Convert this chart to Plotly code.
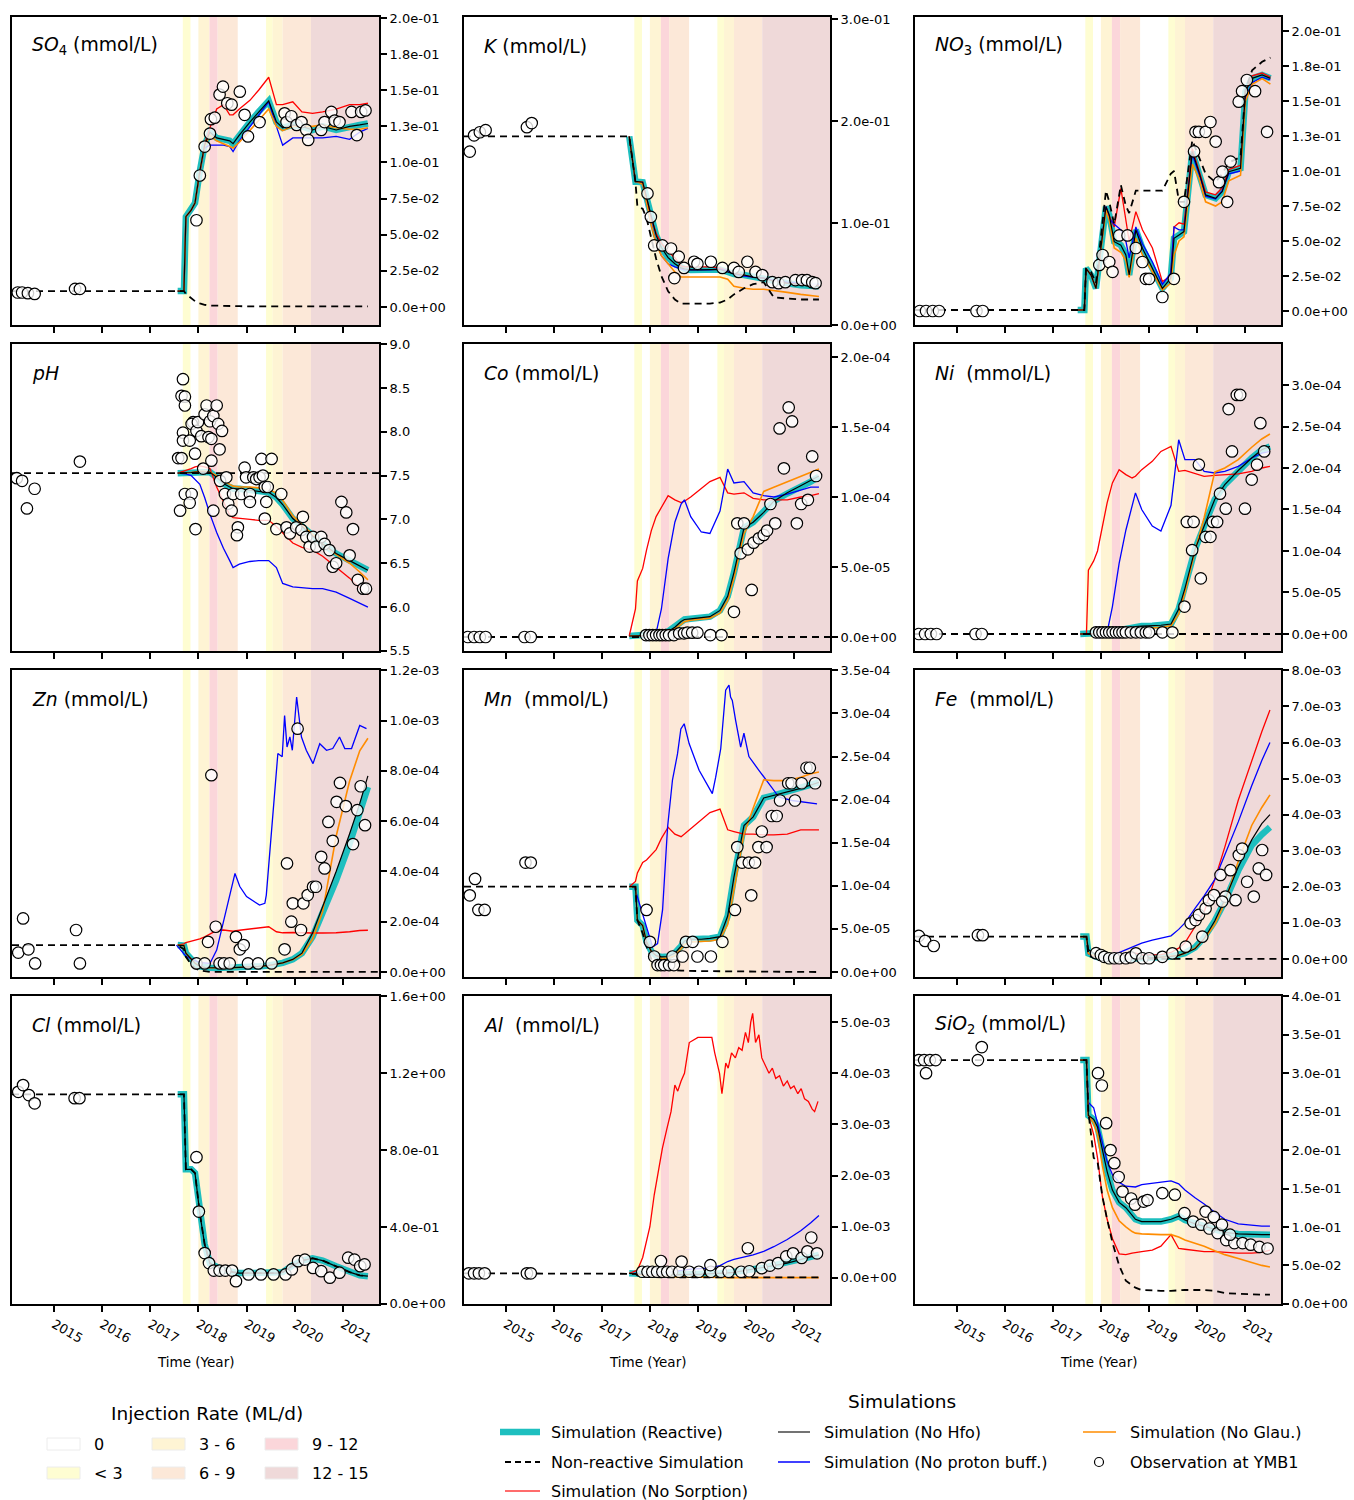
import plotly.graph_objects as go

W, H = 1354, 1500
FONT = "DejaVu Sans"

# ---------------- time axis ----------------
X_LEFT, X_RIGHT = 2014.13, 2021.75
YEAR_TICKS = [2015, 2016, 2017, 2018, 2019, 2020, 2021]
T = [2017.57, 2017.70, 2017.74, 2017.85, 2017.93, 2018.03, 2018.13, 2018.24, 2018.38, 2018.52,
     2018.65, 2018.72, 2018.85, 2019.07, 2019.25, 2019.46, 2019.62, 2019.75, 2019.96, 2020.15,
     2020.37, 2020.58, 2020.86, 2021.14, 2021.35, 2021.52]

# ---------------- injection-rate periods ----------------
BAND_START = [2017.676, 2018.00, 2018.23, 2018.40, 2019.405, 2019.544, 2019.751, 2020.338]
BAND_END = [2017.836, 2018.23, 2018.40, 2018.817, 2019.544, 2019.751, 2020.338, 2021.75]
BAND_CLASS = ["< 3", "3 - 6", "9 - 12", "6 - 9", "< 3", "3 - 6", "6 - 9", "12 - 15"]
RATE_CLASSES = ["0", "< 3", "3 - 6", "6 - 9", "9 - 12", "12 - 15"]
RATE_COLORS = ["#ffffff", "#fefdd2", "#fef4d4", "#fce8d8", "#fbd6da", "#efd9d9"]

# ---------------- SO4 ----------------
SO4_REACTIVE = [0.011, 0.011, 0.0625, 0.067, 0.072, 0.094, 0.112, 0.121, 0.117, 0.116, 0.115, 0.113, 0.119,
                0.128, 0.135, 0.1426, 0.128, 0.124, 0.126, 0.125, 0.1225, 0.125, 0.1225, 0.125, 0.126, 0.127]
SO4_NOHFO = SO4_REACTIVE
SO4_NOGLAU = [0.011, 0.011, 0.0625, 0.067, 0.072, 0.094, 0.111, 0.119, 0.115, 0.113, 0.111, 0.110, 0.114,
              0.122, 0.129, 0.137, 0.125, 0.122, 0.125, 0.125, 0.125, 0.126, 0.124, 0.123, 0.123, 0.124]
SO4_NOPROTON = [0.011, 0.011, 0.0625, 0.067, 0.072, 0.094, 0.110, 0.112, 0.112, 0.112, 0.111, 0.1075, 0.115,
                0.125, 0.133, 0.142, 0.125, 0.112, 0.117, 0.117, 0.117, 0.117, 0.118, 0.116, 0.121, 0.1236]
SO4_NOSORPTION = [0.011, 0.011, 0.0625, 0.067, 0.072, 0.094, 0.113, 0.124, 0.137, 0.140, 0.133, 0.133, 0.137,
                  0.143, 0.150, 0.159, 0.140, 0.140, 0.142, 0.135, 0.134, 0.135, 0.137, 0.140, 0.140, 0.141]
SO4_NONREACTIVE = [0.011, 0.011, 0.009, 0.006, 0.004, 0.0025, 0.0015, 0.001, 0.0008, 0.0006, 0.0005, 0.0005,
                   0.0005, 0.0004, 0.0004, 0.0004, 0.0004, 0.0004, 0.0004, 0.0004, 0.0004, 0.0004, 0.0004,
                   0.0004, 0.0004, 0.0004]
SO4_OBS_T = [2014.25, 2014.34, 2014.46, 2014.60, 2015.44, 2015.54, 2017.96, 2018.03, 2018.13, 2018.24, 2018.26,
             2018.34, 2018.44, 2018.51, 2018.60, 2018.69, 2018.86, 2018.96, 2019.03, 2019.27, 2019.79, 2019.83,
             2019.93, 2020.04, 2020.14, 2020.24, 2020.28, 2020.55, 2020.62, 2020.76, 2020.83, 2020.93, 2021.18,
             2021.29, 2021.38, 2021.47]
SO4_OBS_V = [0.010, 0.010, 0.0095, 0.009, 0.0125, 0.0125, 0.060, 0.091, 0.111, 0.120, 0.130, 0.131, 0.147,
             0.1525, 0.141, 0.140, 0.149, 0.133, 0.118, 0.128, 0.134, 0.128, 0.132, 0.126, 0.128, 0.1225,
             0.1156, 0.1225, 0.128, 0.135, 0.129, 0.128, 0.135, 0.119, 0.135, 0.136]

# ---------------- K ----------------
K_REACTIVE = [0.185, 0.1405, 0.1405, 0.140, 0.125, 0.105, 0.088, 0.076, 0.066, 0.060, 0.056, 0.055, 0.054,
              0.054, 0.054, 0.0545, 0.052, 0.050, 0.049, 0.047, 0.046, 0.043, 0.041, 0.039, 0.038, 0.038]
K_NOHFO = K_REACTIVE
K_NOSORPTION = [0.185, 0.1405, 0.1405, 0.140, 0.125, 0.105, 0.090, 0.080, 0.072, 0.066, 0.058, 0.057, 0.057,
                0.057, 0.057, 0.056, 0.053, 0.051, 0.049, 0.047, 0.046, 0.043, 0.041, 0.040, 0.039, 0.039]
K_NOPROTON = [0.185, 0.1405, 0.1405, 0.138, 0.120, 0.100, 0.080, 0.068, 0.060, 0.057, 0.055, 0.054, 0.054,
              0.054, 0.054, 0.055, 0.053, 0.050, 0.048, 0.047, 0.046, 0.044, 0.042, 0.041, 0.040, 0.040]
K_NOGLAU = [0.185, 0.1405, 0.1405, 0.138, 0.120, 0.098, 0.080, 0.068, 0.060, 0.052, 0.047, 0.047, 0.047,
            0.047, 0.047, 0.047, 0.045, 0.038, 0.036, 0.035, 0.035, 0.034, 0.032, 0.030, 0.029, 0.028]
K_NONREACTIVE = [0.185, 0.14, 0.116, 0.114, 0.105, 0.085, 0.065, 0.048, 0.033, 0.025, 0.021, 0.021, 0.021,
                 0.021, 0.021, 0.022, 0.025, 0.030, 0.036, 0.040, 0.042, 0.027, 0.026, 0.025, 0.025, 0.025]
K_OBS_T = [2014.25, 2014.34, 2014.46, 2014.58, 2015.44, 2015.54, 2017.95, 2018.02, 2018.09, 2018.26, 2018.44,
           2018.51, 2018.60, 2018.71, 2018.92, 2018.99, 2019.27, 2019.51, 2019.75, 2019.85, 2020.03, 2020.20,
           2020.34, 2020.55, 2020.68, 2020.82, 2021.03, 2021.17, 2021.27, 2021.38, 2021.45]
K_OBS_V = [0.170, 0.186, 0.189, 0.191, 0.194, 0.198, 0.129, 0.106, 0.078, 0.078, 0.075, 0.046, 0.067, 0.056,
           0.062, 0.060, 0.062, 0.056, 0.056, 0.052, 0.062, 0.052, 0.049, 0.042, 0.041, 0.042, 0.044, 0.044,
           0.044, 0.042, 0.041]

# ---------------- NO3 ----------------
T_NO3 = [2017.517, 2017.656, 2017.690, 2017.794, 2017.898, 2018.002, 2018.106, 2018.174, 2018.278, 2018.416,
         2018.520, 2018.589, 2018.728, 2018.865, 2019.073, 2019.280, 2019.454, 2019.523, 2019.627, 2019.730,
         2019.903, 2020.041, 2020.180, 2020.388, 2020.525, 2020.664, 2020.907, 2021.010, 2021.149, 2021.357,
         2021.530]
NO3_REACTIVE = [0.0007, 0.0007, 0.0305, 0.0257, 0.0162, 0.0448, 0.0745, 0.0686, 0.0495, 0.047, 0.040, 0.0257,
                0.0579, 0.0448, 0.0305, 0.0162, 0.0233, 0.0519, 0.0543, 0.0567, 0.1138, 0.0995, 0.0829, 0.0805,
                0.0852, 0.0995, 0.1019, 0.1567, 0.1662, 0.1686, 0.1662]
NO3_NOHFO = NO3_REACTIVE
NO3_NOSORPTION = [0.0007, 0.0007, 0.0305, 0.0257, 0.0162, 0.0448, 0.0745, 0.068, 0.060, 0.0876, 0.064, 0.050,
                  0.071, 0.058, 0.045, 0.021, 0.025, 0.060, 0.063, 0.062, 0.116, 0.100, 0.085, 0.083, 0.088,
                  0.101, 0.104, 0.157, 0.168, 0.170, 0.167]
NO3_NOPROTON = [0.0007, 0.0007, 0.0305, 0.0257, 0.0162, 0.0448, 0.0745, 0.066, 0.062, 0.058, 0.050, 0.038,
                0.060, 0.048, 0.035, 0.019, 0.027, 0.060, 0.058, 0.058, 0.112, 0.098, 0.082, 0.080, 0.086,
                0.098, 0.100, 0.152, 0.163, 0.167, 0.165]
NO3_NOGLAU = [0.0007, 0.0007, 0.0305, 0.0257, 0.0162, 0.0440, 0.072, 0.065, 0.045, 0.042, 0.036, 0.024, 0.052,
              0.040, 0.028, 0.015, 0.020, 0.040, 0.050, 0.053, 0.105, 0.095, 0.078, 0.075, 0.078, 0.093, 0.097,
              0.150, 0.162, 0.166, 0.162]
NO3_NONREACTIVE = [0.0007, 0.0007, 0.030, 0.028, 0.020, 0.055, 0.086, 0.078, 0.062, 0.090, 0.075, 0.070, 0.086,
                   0.086, 0.086, 0.086, 0.098, 0.100, 0.078, 0.078, 0.122, 0.110, 0.098, 0.092, 0.098, 0.106,
                   0.110, 0.158, 0.172, 0.178, 0.181]
NO3_OBS_T = [2014.23, 2014.36, 2014.50, 2014.63, 2015.41, 2015.54, 2017.967, 2018.035, 2018.174, 2018.243,
             2018.382, 2018.555, 2018.728, 2018.865, 2018.935, 2019.004, 2019.28, 2019.52, 2019.73, 2019.94,
             2019.97, 2020.04, 2020.18, 2020.28, 2020.39, 2020.46, 2020.53, 2020.63, 2020.70, 2020.87, 2020.94,
             2021.04, 2021.21, 2021.46]
NO3_OBS_V = [0.0, 0.0, 0.0, 0.0, 0.0, 0.0, 0.0329, 0.040, 0.035, 0.028, 0.054, 0.054, 0.045, 0.035, 0.023,
             0.023, 0.010, 0.023, 0.078, 0.114, 0.128, 0.128, 0.128, 0.135, 0.121, 0.092, 0.0995, 0.078, 0.1067,
             0.1495, 0.157, 0.165, 0.157, 0.128]

# ---------------- pH ----------------
PH_REACTIVE = [7.527, 7.527, 7.53, 7.535, 7.54, 7.54, 7.54, 7.54, 7.48, 7.41, 7.37, 7.35, 7.35, 7.33, 7.32,
               7.31, 7.25, 7.17, 7.01, 6.92, 6.81, 6.72, 6.61, 6.53, 6.47, 6.42]
PH_NOHFO = PH_REACTIVE
PH_NOGLAU = [7.527, 7.527, 7.53, 7.535, 7.54, 7.55, 7.55, 7.54, 7.50, 7.44, 7.40, 7.38, 7.37, 7.37, 7.36,
             7.34, 7.30, 7.22, 7.04, 6.94, 6.82, 6.72, 6.60, 6.50, 6.40, 6.31]
PH_NOSORPTION = [7.527, 7.55, 7.56, 7.58, 7.60, 7.61, 7.60, 7.58, 7.37, 7.20, 7.05, 7.02, 7.01, 7.00, 6.99,
                 6.99, 6.92, 6.85, 6.73, 6.68, 6.65, 6.58, 6.46, 6.33, 6.22, 6.14]
PH_NOPROTON = [7.527, 7.52, 7.52, 7.50, 7.46, 7.40, 7.25, 7.06, 6.85, 6.67, 6.53, 6.45, 6.49, 6.52, 6.53,
               6.53, 6.45, 6.27, 6.23, 6.22, 6.21, 6.21, 6.17, 6.10, 6.04, 6.00]
PH_NONREACTIVE = [7.527] * 26
PH_OBS_T = [2014.23, 2014.34, 2014.44, 2014.60, 2015.54,
            2017.68, 2017.65, 2017.72, 2017.72, 2017.58, 2017.65, 2017.89, 2017.68, 2017.68, 2017.82, 2017.86,
            2017.96, 2017.99, 2018.06, 2018.13, 2018.17, 2018.21, 2018.24, 2018.27, 2018.31, 2018.38, 2018.41,
            2018.44, 2018.49, 2018.27, 2018.31, 2017.62, 2017.93, 2017.72, 2017.86, 2017.82, 2017.94, 2018.10,
            2018.45, 2018.55, 2018.62, 2018.69, 2018.58, 2018.72, 2018.82, 2018.80, 2018.89, 2018.96, 2018.99,
            2019.07, 2019.14, 2019.20, 2019.27, 2019.31, 2019.34, 2019.38, 2019.44, 2019.41, 2019.07, 2019.52,
            2019.38, 2019.62, 2019.72, 2019.83, 2019.90, 2020.03, 2020.17, 2020.14, 2020.24, 2020.31, 2020.38,
            2020.45, 2020.55, 2020.62, 2020.72, 2020.79, 2020.86, 2020.97, 2021.07, 2021.21, 2021.14, 2021.31,
            2021.42, 2021.48]
PH_OBS_V = [7.47, 7.44, 7.125, 7.35, 7.66,
            8.60, 8.41, 8.40, 8.30, 7.70, 7.70, 8.11, 7.99, 7.90, 7.90, 8.09, 8.01, 8.11, 7.95, 8.20, 8.30,
            7.94, 8.12, 7.92, 8.18, 8.30, 8.09, 7.80, 8.01, 7.67, 7.10, 7.10, 7.75, 7.29, 7.29, 7.19, 6.89,
            7.58, 7.44, 7.29, 7.18, 7.10, 7.48, 7.29, 6.91, 6.82, 7.29, 7.59, 7.48, 7.29, 7.48, 7.46, 7.48,
            7.69, 7.50, 7.37, 7.37, 7.20, 7.20, 7.69, 7.01, 6.89, 7.29, 6.91, 6.84, 6.91, 7.03, 6.88, 6.80,
            6.69, 6.80, 6.69, 6.80, 6.72, 6.65, 6.46, 6.50, 7.20, 7.08, 6.89, 6.59, 6.31, 6.21, 6.21]

# ---------------- Co ----------------
CO_REACTIVE = [7e-7, 1e-6, 1e-6, 1e-6, 1e-6, 1e-6, 1.5e-6, 2.5e-6, 4e-6, 7e-6, 1.1e-5, 1.25e-5, 1.3e-5,
               1.4e-5, 1.45e-5, 1.9e-5, 2.9e-5, 4.6e-5, 7.8e-5, 8.2e-5, 8.9e-5, 9.7e-5, 1.025e-4, 1.07e-4,
               1.11e-4, 1.145e-4]
CO_NOHFO = [7e-7, 1e-6, 1e-6, 1e-6, 1e-6, 1e-6, 1.5e-6, 2.5e-6, 4e-6, 7e-6, 1.1e-5, 1.25e-5, 1.3e-5,
            1.4e-5, 1.45e-5, 1.9e-5, 2.9e-5, 4.6e-5, 7.8e-5, 8.2e-5, 8.9e-5, 9.7e-5, 1.03e-4, 1.08e-4,
            1.12e-4, 1.15e-4]
CO_NOGLAU = [7e-7, 1e-6, 1e-6, 1e-6, 1e-6, 1e-6, 1.5e-6, 2.5e-6, 4e-6, 6e-6, 9e-6, 1.1e-5, 1.2e-5, 1.3e-5,
             1.35e-5, 1.7e-5, 2.6e-5, 4.2e-5, 7.4e-5, 8.6e-5, 1.04e-4, 1.07e-4, 1.11e-4, 1.145e-4, 1.18e-4,
             1.2e-4]
CO_NOSORPTION = [7e-7, 2e-5, 4.0e-5, 4.9e-5, 6.2e-5, 7.6e-5, 8.6e-5, 9.3e-5, 1.01e-4, 9.8e-5, 9.6e-5, 9.7e-5,
                 1.0e-4, 1.06e-4, 1.11e-4, 1.14e-4, 1.03e-4, 1.02e-4, 1.03e-4, 9.9e-5, 9.8e-5, 9.8e-5, 9.8e-5,
                 1.0e-4, 1.01e-4, 1.025e-4]
CO_NOPROTON = [7e-7, 1e-6, 1e-6, 1e-6, 1e-6, 1e-6, 3e-6, 2.0e-5, 5.6e-5, 8.2e-5, 9.5e-5, 9.8e-5, 8.6e-5,
               7.5e-5, 7.4e-5, 9.0e-5, 1.2e-4, 1.1e-4, 1.11e-4, 1.03e-4, 1.01e-4, 1.0e-4, 1.02e-4, 1.05e-4,
               1.07e-4, 1.07e-4]
CO_NONREACTIVE = [0.0] * 26
CO_OBS_T = [2014.21, 2014.34, 2014.46, 2014.58, 2015.39, 2015.52,
            2017.92, 2017.99, 2018.06, 2018.13, 2018.20, 2018.26, 2018.33, 2018.40, 2018.50, 2018.61, 2018.71,
            2018.78, 2018.88, 2018.99, 2019.26, 2019.49,
            2019.75, 2020.12, 2019.89, 2020.04, 2020.16, 2020.27, 2020.37, 2020.44, 2019.82, 2019.96, 2020.61,
            2020.51, 2021.06, 2021.15, 2021.29, 2020.79, 2021.38, 2021.46, 2020.70, 2020.89, 2020.96]
CO_OBS_V = [0.0, 0.0, 0.0, 0.0, 0.0, 0.0,
            1.4e-6, 1.4e-6, 1.4e-6, 1.4e-6, 1.4e-6, 1.4e-6, 1.4e-6, 1.4e-6, 1.4e-6, 2.6e-6, 2.6e-6, 3.1e-6,
            3.1e-6, 3.1e-6, 1.4e-6, 1.4e-6,
            1.8e-5, 3.36e-5, 5.98e-5, 6.26e-5, 6.74e-5, 7.05e-5, 7.29e-5, 7.6e-5, 8.12e-5, 8.12e-5, 8.12e-5,
            9.5e-5, 8.12e-5, 9.5e-5, 9.8e-5, 1.205e-4, 1.29e-4, 1.15e-4, 1.49e-4, 1.64e-4, 1.54e-4]

# ---------------- Ni ----------------
NI_REACTIVE = [0.0, 0.0, 0.0, 5e-7, 1e-6, 1.5e-6, 2e-6, 3e-6, 4e-6, 5.5e-6, 8e-6, 9e-6, 9.5e-6, 1.0e-5,
               1.05e-5, 1.2e-5, 3.0e-5, 5.5e-5, 1.02e-4, 1.3e-4, 1.62e-4, 1.80e-4, 1.97e-4, 2.12e-4, 2.22e-4,
               2.26e-4]
NI_NOHFO = NI_REACTIVE
NI_NOGLAU = [0.0, 0.0, 0.0, 5e-7, 1e-6, 1.5e-6, 2e-6, 3e-6, 4e-6, 5e-6, 6e-6, 7e-6, 7e-6, 7.5e-6, 8e-6,
             1.0e-5, 2.4e-5, 5.0e-5, 1.0e-4, 1.4e-4, 1.95e-4, 2.0e-4, 2.1e-4, 2.25e-4, 2.35e-4, 2.41e-4]
NI_NOSORPTION = [0.0, 0.0, 7.7e-5, 8.8e-5, 1.0e-4, 1.28e-4, 1.58e-4, 1.82e-4, 1.98e-4, 1.92e-4, 1.88e-4,
                 1.9e-4, 1.98e-4, 2.08e-4, 2.2e-4, 2.26e-4, 1.96e-4, 1.97e-4, 1.93e-4, 1.90e-4, 1.91e-4,
                 1.92e-4, 1.93e-4, 1.96e-4, 2.0e-4, 2.02e-4]
NI_NOPROTON = [0.0, 0.0, 0.0, 5e-7, 1e-6, 1.5e-6, 2e-6, 3.3e-5, 8.5e-5, 1.25e-4, 1.55e-4, 1.7e-4, 1.5e-4,
               1.3e-4, 1.24e-4, 1.55e-4, 2.34e-4, 2.1e-4, 2.1e-4, 1.96e-4, 1.94e-4, 1.96e-4, 2.02e-4, 2.12e-4,
               2.18e-4, 2.2e-4]
NI_NONREACTIVE = [0.0] * 26
NI_OBS_T = [2014.21, 2014.34, 2014.46, 2014.58, 2015.39, 2015.52,
            2017.898, 2017.967, 2018.035, 2018.106, 2018.174, 2018.243, 2018.313, 2018.382, 2018.451, 2018.520,
            2018.624, 2018.728, 2018.831, 2018.935, 2019.004, 2019.28, 2019.488,
            2019.74, 2020.08, 2019.90, 2020.18, 2020.28, 2019.79, 2019.93, 2020.33, 2020.42, 2020.48, 2020.60,
            2020.73, 2020.66, 2020.83, 2020.90, 2021.00, 2021.14, 2021.25, 2021.32, 2021.40, 2020.04]
NI_OBS_V = [0.0, 0.0, 0.0, 0.0, 0.0, 0.0,
            2e-6, 2e-6, 2e-6, 2e-6, 2e-6, 2e-6, 2e-6, 2e-6, 2e-6, 2e-6, 2e-6, 2e-6, 2e-6, 2e-6, 2e-6, 2e-6, 2e-6,
            3.3e-5, 6.7e-5, 1.01e-4, 1.17e-4, 1.17e-4, 1.35e-4, 1.35e-4, 1.35e-4, 1.35e-4, 1.69e-4, 1.51e-4,
            2.2e-4, 2.71e-4, 2.88e-4, 2.88e-4, 1.51e-4, 1.86e-4, 2.04e-4, 2.54e-4, 2.2e-4, 2.04e-4]

# ---------------- Zn ----------------
ZN_REACTIVE = [1.07e-4, 1.05e-4, 7.5e-5, 5.0e-5, 3.5e-5, 2.2e-5, 1.8e-5, 1.7e-5, 1.6e-5, 1.6e-5, 1.6e-5,
               1.7e-5, 1.8e-5, 2.0e-5, 2.2e-5, 2.6e-5, 3.0e-5, 3.6e-5, 5.0e-5, 7.5e-5, 1.4e-4, 2.3e-4, 3.65e-4,
               5.1e-4, 6.3e-4, 7.36e-4]
ZN_NOHFO = [1.07e-4, 1.05e-4, 7.5e-5, 5.0e-5, 3.5e-5, 2.2e-5, 1.8e-5, 1.7e-5, 1.6e-5, 1.6e-5, 1.6e-5,
            1.7e-5, 1.8e-5, 2.0e-5, 2.2e-5, 2.6e-5, 3.0e-5, 3.6e-5, 5.0e-5, 7.5e-5, 1.55e-4, 2.6e-4, 4.0e-4,
            5.5e-4, 6.7e-4, 7.8e-4]
ZN_NOGLAU = [1.07e-4, 1.05e-4, 7.5e-5, 5.0e-5, 3.5e-5, 2.2e-5, 1.8e-5, 1.7e-5, 1.6e-5, 1.6e-5, 1.6e-5,
             1.7e-5, 1.8e-5, 2.0e-5, 2.2e-5, 2.6e-5, 3.0e-5, 3.6e-5, 5.0e-5, 7.0e-5, 1.3e-4, 2.4e-4, 5.4e-4,
             7.6e-4, 8.8e-4, 9.3e-4]
ZN_NOSORPTION = [1.07e-4, 1.12e-4, 1.17e-4, 1.22e-4, 1.27e-4, 1.32e-4, 1.4e-4, 1.52e-4, 1.65e-4, 1.67e-4,
                 1.64e-4, 1.62e-4, 1.66e-4, 1.7e-4, 1.75e-4, 1.8e-4, 1.6e-4, 1.56e-4, 1.57e-4, 1.55e-4, 1.55e-4,
                 1.55e-4, 1.56e-4, 1.6e-4, 1.65e-4, 1.66e-4]
T_ZN_NOPROTON = [2017.545, 2017.75, 2018.03, 2018.24, 2018.38, 2018.58, 2018.76, 2018.86, 2019.0, 2019.27,
                 2019.38, 2019.41, 2019.59, 2019.65, 2019.74, 2019.79, 2019.84, 2019.90, 2019.95, 2020.04,
                 2020.14, 2020.24, 2020.38, 2020.52, 2020.66, 2020.79, 2020.93, 2021.04, 2021.18, 2021.35,
                 2021.49]
ZN_NOPROTON = [1.07e-4, 6.1e-5, 3.7e-5, 3.4e-5, 8.7e-5, 2.46e-4, 3.92e-4, 3.4e-4, 3.0e-4, 2.66e-4, 2.73e-4,
               3.06e-4, 7.1e-4, 8.69e-4, 8.56e-4, 1.02e-3, 8.95e-4, 9.35e-4, 8.82e-4, 1.094e-3, 9.35e-4,
               8.82e-4, 8.29e-4, 9.08e-4, 8.82e-4, 8.89e-4, 9.35e-4, 8.89e-4, 8.89e-4, 9.81e-4, 9.68e-4]
ZN_NONREACTIVE = [1.07e-4, 9e-5, 6e-5, 3e-5, 1.5e-5, 6e-6, 2e-6] + [0.0] * 19
ZN_OBS_T = [2014.26, 2014.36, 2014.47, 2014.61, 2015.46, 2015.54,
            2017.96, 2018.13, 2018.20, 2018.36, 2018.27, 2018.44, 2018.53, 2018.65, 2018.78, 2018.86, 2018.94,
            2019.03, 2019.24, 2019.52, 2019.79, 2019.93, 2019.96, 2020.13, 2019.84, 2020.18, 2020.27, 2020.38,
            2020.44, 2020.55, 2020.62, 2020.70, 2020.79, 2020.87, 2020.94, 2021.06, 2021.21, 2021.30, 2021.37,
            2021.46, 2020.06]
ZN_OBS_V = [7.7e-5, 2.13e-4, 9.0e-5, 3.4e-5, 1.67e-4, 3.4e-5,
            3.4e-5, 3.4e-5, 1.2e-4, 1.8e-4, 7.83e-4, 3.4e-5, 3.4e-5, 3.4e-5, 1.4e-4, 9.0e-5, 1.07e-4, 3.4e-5,
            3.4e-5, 3.4e-5, 9.0e-5, 2.0e-4, 2.73e-4, 1.67e-4, 4.32e-4, 2.73e-4, 3.06e-4, 3.39e-4, 3.39e-4,
            4.58e-4, 4.12e-4, 5.97e-4, 5.22e-4, 6.77e-4, 7.52e-4, 6.6e-4, 5.09e-4, 6.44e-4, 7.39e-4, 5.84e-4,
            9.68e-4]

# ---------------- Mn ----------------
MN_REACTIVE = [9.9e-5, 9.9e-5, 6.0e-5, 5.4e-5, 3.5e-5, 2.4e-5, 1.9e-5, 1.75e-5, 1.8e-5, 2.2e-5, 3.0e-5,
               3.6e-5, 3.8e-5, 3.8e-5, 3.9e-5, 4.1e-5, 6.5e-5, 1.1e-4, 1.7e-4, 1.8e-4, 2.02e-4, 2.05e-4,
               2.09e-4, 2.13e-4, 2.17e-4, 2.2e-4]
MN_NOHFO = MN_REACTIVE
MN_NOGLAU = [9.9e-5, 9.9e-5, 6.0e-5, 5.4e-5, 3.5e-5, 2.4e-5, 1.9e-5, 1.6e-5, 1.6e-5, 1.9e-5, 2.7e-5, 3.2e-5,
             3.5e-5, 3.6e-5, 3.6e-5, 3.8e-5, 5.5e-5, 9.5e-5, 1.6e-4, 1.9e-4, 2.23e-4, 2.22e-4, 2.22e-4,
             2.26e-4, 2.3e-4, 2.32e-4]
MN_NOSORPTION = [9.9e-5, 1.05e-4, 1.15e-4, 1.27e-4, 1.3e-4, 1.36e-4, 1.42e-4, 1.55e-4, 1.68e-4, 1.6e-4,
                 1.57e-4, 1.6e-4, 1.66e-4, 1.77e-4, 1.85e-4, 1.89e-4, 1.65e-4, 1.63e-4, 1.6e-4, 1.6e-4,
                 1.59e-4, 1.59e-4, 1.6e-4, 1.65e-4, 1.65e-4, 1.65e-4]
T_MN_NOPROTON = [2017.676, 2017.918, 2018.056, 2018.16, 2018.264, 2018.368, 2018.471, 2018.575, 2018.645,
                 2018.714, 2018.817, 2019.025, 2019.30, 2019.37, 2019.475, 2019.578, 2019.647, 2019.68,
                 2019.716, 2019.785, 2019.89, 2019.958, 2020.062, 2020.27, 2020.477, 2020.685, 2020.96,
                 2021.24, 2021.48]
MN_NOPROTON = [9.9e-5, 5.6e-5, 2.9e-5, 3.3e-5, 7.2e-5, 1.68e-4, 2.23e-4, 2.53e-4, 2.82e-4, 2.88e-4, 2.65e-4,
               2.34e-4, 2.07e-4, 2.26e-4, 2.59e-4, 3.27e-4, 3.33e-4, 3.19e-4, 3.15e-4, 2.92e-4, 2.61e-4,
               2.77e-4, 2.5e-4, 2.34e-4, 2.19e-4, 2.03e-4, 1.99e-4, 1.97e-4, 1.95e-4]
MN_NONREACTIVE = [9.9e-5, 9.9e-5, 6e-5, 4.5e-5, 3e-5, 1.5e-5, 8e-6, 5e-6, 3e-6, 2e-6, 1.5e-6, 1.5e-6, 1e-6,
                  1e-6, 1e-6, 1e-6, 8e-7, 8e-7, 6e-7, 5e-7, 4e-7, 3e-7, 2e-7, 1e-7, 0.0, 0.0]
MN_OBS_T = [2014.25, 2014.36, 2014.43, 2014.56, 2015.41, 2015.52,
            2017.93, 2018.00, 2018.09, 2018.16, 2018.23, 2018.30, 2018.40, 2018.50, 2018.47, 2018.68, 2018.75,
            2018.89, 2018.99, 2019.27, 2019.51, 2019.77, 2019.82, 2019.92, 2020.06, 2020.19, 2020.11, 2020.26,
            2020.43, 2020.33, 2020.54, 2020.64, 2020.71, 2021.02, 2020.88, 2020.95, 2021.16, 2021.26, 2021.33,
            2021.44]
MN_OBS_V = [8.9e-5, 1.08e-4, 7.2e-5, 7.2e-5, 1.27e-4, 1.27e-4,
            7.2e-5, 3.5e-5, 1.8e-5, 8e-6, 8e-6, 8e-6, 8e-6, 8e-6, 1.8e-5, 1.8e-5, 3.5e-5, 3.5e-5, 1.8e-5,
            1.8e-5, 3.5e-5, 7.2e-5, 1.45e-4, 1.27e-4, 1.27e-4, 1.27e-4, 8.9e-5, 1.45e-4, 1.45e-4, 1.63e-4,
            1.81e-4, 1.81e-4, 1.99e-4, 1.99e-4, 2.19e-4, 2.19e-4, 2.19e-4, 2.37e-4, 2.37e-4, 2.19e-4]

# ---------------- Fe ----------------
FE_REACTIVE = [6.2e-4, 6.2e-4, 1.5e-4, 8e-5, 5e-5, 3e-5, 2e-5, 2e-5, 1.5e-5, 1.5e-5, 1.5e-5, 1.5e-5, 2e-5,
               3e-5, 5e-5, 7e-5, 1.0e-4, 1.6e-4, 3.2e-4, 6.0e-4, 1.05e-3, 1.6e-3, 2.45e-3, 3.15e-3, 3.45e-3,
               3.65e-3]
FE_NOHFO = [6.2e-4, 6.2e-4, 2.6e-4, 1.5e-4, 8e-5, 4e-5, 2e-5, 2e-5, 1.5e-5, 1.5e-5, 1.5e-5, 1.5e-5, 2e-5,
            3e-5, 5e-5, 7e-5, 1.0e-4, 1.6e-4, 2.8e-4, 5.6e-4, 1.05e-3, 1.65e-3, 2.55e-3, 3.3e-3, 3.75e-3,
            4.0e-3]
FE_NOGLAU = [6.2e-4, 6.2e-4, 1.5e-4, 8e-5, 5e-5, 3e-5, 2e-5, 2e-5, 1.5e-5, 1.5e-5, 1.5e-5, 1.5e-5, 2e-5,
             3e-5, 5e-5, 7e-5, 1.0e-4, 1.6e-4, 3.0e-4, 5.5e-4, 9.5e-4, 1.55e-3, 2.7e-3, 3.7e-3, 4.2e-3, 4.55e-3]
FE_NOSORPTION = [6.2e-4, 6.2e-4, 1.5e-4, 8e-5, 6e-5, 5e-5, 5e-5, 6e-5, 8e-5, 1.0e-4, 1.5e-4, 1.6e-4, 1.1e-4,
                 1.1e-4, 1.2e-4, 1.8e-4, 3.0e-4, 4.5e-4, 9.0e-4, 1.3e-3, 2.2e-3, 3.1e-3, 4.4e-3, 5.5e-3,
                 6.3e-3, 6.9e-3]
FE_NOPROTON = [6.2e-4, 6.2e-4, 1.5e-4, 8e-5, 6e-5, 5e-5, 6e-5, 1.0e-4, 1.8e-4, 2.5e-4, 3.3e-4, 3.7e-4,
               4.4e-4, 5.2e-4, 5.7e-4, 6.4e-4, 8.2e-4, 1.0e-3, 1.4e-3, 1.75e-3, 2.2e-3, 2.9e-3, 3.8e-3, 4.8e-3,
               5.5e-3, 6.0e-3]
FE_NONREACTIVE = [6.2e-4, 6.2e-4, 1.0e-4, 3e-5, 1e-5, 5e-6] + [0.0] * 20
FE_OBS_T = [2014.21, 2014.34, 2014.52, 2015.44, 2015.54,
            2017.90, 2018.0, 2018.07, 2018.174, 2018.278, 2018.382, 2018.52, 2018.624, 2018.728, 2018.865,
            2019.004, 2019.28, 2019.488, 2019.765, 2019.869, 2019.972, 2020.111, 2020.041, 2020.18, 2020.249,
            2020.353, 2020.491, 2020.595, 2020.525, 2020.699, 2020.803, 2020.872, 2020.941, 2021.045,
            2021.183, 2021.287, 2021.357, 2021.44]
FE_OBS_V = [6.4e-4, 5.0e-4, 3.6e-4, 6.6e-4, 6.6e-4,
            1.6e-4, 1.1e-4, 6e-5, 2e-5, 2e-5, 2e-5, 2e-5, 4.6e-5, 1.57e-4, 2e-5, 2e-5, 6e-5, 1.57e-4, 3.41e-4,
            9.87e-4, 1.08e-3, 6.18e-4, 1.22e-3, 1.40e-3, 1.63e-3, 1.77e-3, 2.33e-3, 1.73e-3, 1.59e-3, 2.46e-3,
            1.63e-3, 2.88e-3, 3.06e-3, 2.14e-3, 1.73e-3, 2.51e-3, 3.02e-3, 2.33e-3]

# ---------------- Cl ----------------
CL_REACTIVE = [1.09, 1.09, 0.70, 0.70, 0.68, 0.47, 0.31, 0.21, 0.19, 0.175, 0.17, 0.165, 0.16, 0.16, 0.16,
               0.16, 0.16, 0.165, 0.20, 0.225, 0.237, 0.225, 0.195, 0.165, 0.148, 0.144]
CL_NOHFO = CL_REACTIVE
CL_NONREACTIVE = CL_REACTIVE
CL_OBS_T = [2014.26, 2014.36, 2014.48, 2014.60, 2015.43, 2015.53, 2017.96, 2018.01, 2018.13, 2018.22, 2018.32,
            2018.44, 2018.56, 2018.70, 2018.78, 2019.04, 2019.30, 2019.56, 2019.81, 2019.94, 2020.07, 2020.21,
            2020.38, 2020.55, 2020.73, 2020.93, 2021.11, 2021.24, 2021.36, 2021.45]
CL_OBS_V = [1.103, 1.138, 1.086, 1.043, 1.07, 1.07, 0.763, 0.48, 0.264, 0.212, 0.173, 0.173, 0.173, 0.173,
            0.118, 0.153, 0.153, 0.153, 0.153, 0.179, 0.222, 0.23, 0.187, 0.17, 0.136, 0.162, 0.24, 0.23,
            0.196, 0.205]

# ---------------- Al ----------------
AL_REACTIVE = [9e-5, 8e-5, 7e-5, 6e-5, 6e-5, 6e-5, 6e-5, 6e-5, 6e-5, 6e-5, 6.5e-5, 7e-5, 7e-5, 7.5e-5, 8e-5,
               9e-5, 1.0e-4, 1.1e-4, 1.4e-4, 1.7e-4, 2.0e-4, 2.4e-4, 2.9e-4, 3.5e-4, 4.1e-4, 4.5e-4]
AL_NOHFO = AL_REACTIVE
AL_NOGLAU = [9e-5, 8e-5, 6e-5, 5e-5, 4e-5, 4e-5, 3e-5, 3e-5, 2e-5, 2e-5, 2e-5, 2e-5, 1.5e-5, 1e-5, 1e-5,
             1e-5, 5e-6, 5e-6, 5e-6, 5e-6, 5e-6, 5e-6, 5e-6, 5e-6, 5e-6, 5e-6]
AL_NOPROTON = [9e-5, 9e-5, 7e-5, 6e-5, 6e-5, 6e-5, 7e-5, 9e-5, 1.1e-4, 1.3e-4, 1.5e-4, 1.6e-4, 1.7e-4, 1.8e-4,
               1.9e-4, 2.4e-4, 3.2e-4, 3.6e-4, 4.1e-4, 4.5e-4, 5.2e-4, 6.1e-4, 7.5e-4, 9.2e-4, 1.08e-3, 1.22e-3]
T_AL_NOSORPTION = [2017.57, 2017.74, 2017.85, 2018.0, 2018.09, 2018.20, 2018.26, 2018.35, 2018.44, 2018.52,
                   2018.58, 2018.65, 2018.72, 2018.82, 2019.0, 2019.29, 2019.35, 2019.45, 2019.50, 2019.58,
                   2019.63, 2019.70, 2019.78, 2019.85, 2019.92, 2019.99, 2020.05, 2020.10, 2020.14, 2020.20,
                   2020.27, 2020.33, 2020.40, 2020.48, 2020.55, 2020.62, 2020.70, 2020.78, 2020.86, 2020.93,
                   2021.00, 2021.08, 2021.15, 2021.22, 2021.30, 2021.38, 2021.43, 2021.50]
AL_NOSORPTION = [9e-5, 1.5e-4, 4e-4, 1.0e-3, 1.62e-3, 2.2e-3, 2.53e-3, 2.9e-3, 3.25e-3, 3.77e-3, 3.65e-3,
                 3.85e-3, 4.0e-3, 4.6e-3, 4.7e-3, 4.7e-3, 4.4e-3, 4.0e-3, 3.6e-3, 4.2e-3, 4.1e-3, 4.4e-3,
                 4.3e-3, 4.5e-3, 4.45e-3, 4.8e-3, 4.6e-3, 5.0e-3, 5.17e-3, 4.6e-3, 4.75e-3, 4.3e-3, 4.15e-3,
                 4.0e-3, 4.1e-3, 3.9e-3, 3.95e-3, 3.75e-3, 3.85e-3, 3.7e-3, 3.75e-3, 3.6e-3, 3.7e-3, 3.5e-3,
                 3.45e-3, 3.3e-3, 3.25e-3, 3.45e-3]
AL_NONREACTIVE = [9e-5, 8e-5, 5e-5, 3e-5, 2e-5, 1.5e-5] + [1e-5] * 20
AL_OBS_T = [2014.23, 2014.34, 2014.44, 2014.56, 2015.44, 2015.52,
            2017.84, 2017.95, 2018.05, 2018.15, 2018.26, 2018.36, 2018.46, 2018.61, 2018.82, 2019.02, 2019.27,
            2019.48, 2018.23, 2018.66, 2019.26, 2020.04, 2019.64, 2019.90, 2020.07, 2020.33, 2020.50, 2020.67,
            2020.84, 2020.98, 2021.16, 2021.28, 2021.36, 2021.48]
AL_OBS_V = [9e-5, 9e-5, 9e-5, 9e-5, 9e-5, 9e-5,
            1.2e-4, 1.2e-4, 1.2e-4, 1.2e-4, 1.2e-4, 1.2e-4, 1.2e-4, 1.2e-4, 1.2e-4, 1.2e-4, 1.2e-4, 1.2e-4,
            3.3e-4, 3.2e-4, 2.5e-4, 5.8e-4, 1.2e-4, 1.2e-4, 1.3e-4, 1.9e-4, 2.4e-4, 2.9e-4, 4.2e-4, 4.8e-4,
            3.9e-4, 5.2e-4, 7.9e-4, 4.8e-4]

# ---------------- SiO2 ----------------
SIO2_REACTIVE = [0.317, 0.317, 0.245, 0.24, 0.23, 0.20, 0.172, 0.148, 0.132, 0.125, 0.115, 0.11, 0.107,
                 0.107, 0.107, 0.11, 0.114, 0.109, 0.104, 0.101, 0.097, 0.093, 0.091, 0.09, 0.09, 0.09]
SIO2_NOHFO = SIO2_REACTIVE
SIO2_NOPROTON = [0.317, 0.317, 0.262, 0.255, 0.235, 0.21, 0.185, 0.168, 0.158, 0.153, 0.152, 0.152, 0.155,
                 0.157, 0.159, 0.16, 0.156, 0.148, 0.138, 0.13, 0.119, 0.11, 0.104, 0.102, 0.101, 0.101]
SIO2_NOGLAU = [0.317, 0.317, 0.245, 0.235, 0.22, 0.18, 0.148, 0.125, 0.108, 0.1, 0.094, 0.092, 0.091, 0.09,
               0.09, 0.09, 0.087, 0.083, 0.079, 0.075, 0.069, 0.064, 0.059, 0.054, 0.05, 0.048]
SIO2_NOSORPTION = [0.317, 0.317, 0.245, 0.22, 0.19, 0.14, 0.11, 0.085, 0.065, 0.064, 0.066, 0.067, 0.068,
                   0.07, 0.075, 0.09, 0.072, 0.071, 0.069, 0.068, 0.068, 0.067, 0.066, 0.066, 0.067, 0.07]
SIO2_NONREACTIVE = [0.317, 0.317, 0.25, 0.19, 0.185, 0.14, 0.11, 0.08, 0.05, 0.03, 0.024, 0.021, 0.018,
                    0.017, 0.017, 0.017, 0.018, 0.018, 0.018, 0.018, 0.017, 0.014, 0.013, 0.012, 0.012, 0.012]
SIO2_OBS_T = [2014.21, 2014.32, 2014.44, 2014.56, 2014.36, 2015.44, 2015.52,
              2017.94, 2018.02, 2018.11, 2018.20, 2018.28, 2018.37, 2018.45, 2018.63, 2018.71, 2018.89, 2018.97,
              2019.28, 2019.54, 2019.74, 2019.92, 2020.09, 2020.26, 2020.43, 2020.61, 2020.78, 2020.95, 2021.12,
              2021.30, 2021.47, 2020.18, 2020.35, 2020.52, 2020.69]
SIO2_OBS_V = [0.317, 0.317, 0.317, 0.317, 0.30, 0.317, 0.334,
              0.30, 0.284, 0.235, 0.20, 0.183, 0.165, 0.146, 0.137, 0.129, 0.133, 0.135, 0.144, 0.142, 0.118,
              0.107, 0.103, 0.098, 0.092, 0.083, 0.079, 0.079, 0.077, 0.074, 0.072, 0.12, 0.113, 0.103, 0.09]

# ---------------- colours / styles ----------------
C_REACTIVE = "#1ebfbf"
C_NOHFO = "#000000"
C_NOSORPTION = "#ff0000"
C_NOPROTON = "#0000ff"
C_NOGLAU = "#ff8c00"

fig = go.Figure()


def ax_names(i):
    n = "" if i == 1 else str(i)
    return "x" + n, "y" + n, "xaxis" + n, "yaxis" + n


def add_line(i, t, v, color, width, dash=None):
    xr, yr, _, _ = ax_names(i)
    fig.add_trace(go.Scatter(x=t, y=v, mode="lines", xaxis=xr, yaxis=yr, hoverinfo="skip",
                             line=dict(color=color, width=width, dash=dash)))


PANELS = [
    dict(title="<i>SO</i><sub>4</sub> (mmol/L)", yr=[-0.0125, 0.2007],
         tv=[0, 0.025, 0.05, 0.075, 0.1, 0.125, 0.15, 0.175, 0.2],
         tt=["0.0e+00", "2.5e-02", "5.0e-02", "7.5e-02", "1.0e-01", "1.3e-01", "1.5e-01", "1.8e-01", "2.0e-01"],
         t=T, reactive=SO4_REACTIVE, nosorp=SO4_NOSORPTION, noproton=SO4_NOPROTON, noglau=SO4_NOGLAU,
         nohfo=SO4_NOHFO, nonreact=SO4_NONREACTIVE, ext=False, ot=SO4_OBS_T, ov=SO4_OBS_V),
    dict(title="<i>K</i> (mmol/L)", yr=[0, 0.302], tv=[0, 0.1, 0.2, 0.3],
         tt=["0.0e+00", "1.0e-01", "2.0e-01", "3.0e-01"],
         t=T, reactive=K_REACTIVE, nosorp=K_NOSORPTION, noproton=K_NOPROTON, noglau=K_NOGLAU,
         nohfo=K_NOHFO, nonreact=K_NONREACTIVE, ext=False, ot=K_OBS_T, ov=K_OBS_V),
    dict(title="<i>NO</i><sub>3</sub> (mmol/L)", yr=[-0.01, 0.21],
         tv=[0, 0.025, 0.05, 0.075, 0.1, 0.125, 0.15, 0.175, 0.2],
         tt=["0.0e+00", "2.5e-02", "5.0e-02", "7.5e-02", "1.0e-01", "1.3e-01", "1.5e-01", "1.8e-01", "2.0e-01"],
         t=T_NO3, reactive=NO3_REACTIVE, nosorp=NO3_NOSORPTION, noproton=NO3_NOPROTON, noglau=NO3_NOGLAU,
         nohfo=NO3_NOHFO, nonreact=NO3_NONREACTIVE, ext=False, ot=NO3_OBS_T, ov=NO3_OBS_V),
    dict(title="<i>pH</i>", yr=[5.4985, 9.0015], tv=[5.5, 6.0, 6.5, 7.0, 7.5, 8.0, 8.5, 9.0],
         tt=["5.5", "6.0", "6.5", "7.0", "7.5", "8.0", "8.5", "9.0"],
         t=T, reactive=PH_REACTIVE, nosorp=PH_NOSORPTION, noproton=PH_NOPROTON, noglau=PH_NOGLAU,
         nohfo=PH_NOHFO, nonreact=PH_NONREACTIVE, ext=True, ot=PH_OBS_T, ov=PH_OBS_V),
    dict(title="<i>Co</i> (mmol/L)", yr=[-1.0e-5, 2.093e-4], tv=[0, 5e-5, 1e-4, 1.5e-4, 2e-4],
         tt=["0.0e+00", "5.0e-05", "1.0e-04", "1.5e-04", "2.0e-04"],
         t=T, reactive=CO_REACTIVE, nosorp=CO_NOSORPTION, noproton=CO_NOPROTON, noglau=CO_NOGLAU,
         nohfo=CO_NOHFO, nonreact=CO_NONREACTIVE, ext=True, ot=CO_OBS_T, ov=CO_OBS_V),
    dict(title="<i>Ni</i>  (mmol/L)", yr=[-2.05e-5, 3.494e-4],
         tv=[0, 5e-5, 1e-4, 1.5e-4, 2e-4, 2.5e-4, 3e-4],
         tt=["0.0e+00", "5.0e-05", "1.0e-04", "1.5e-04", "2.0e-04", "2.5e-04", "3.0e-04"],
         t=T, reactive=NI_REACTIVE, nosorp=NI_NOSORPTION, noproton=NI_NOPROTON, noglau=NI_NOGLAU,
         nohfo=NI_NOHFO, nonreact=NI_NONREACTIVE, ext=True, ot=NI_OBS_T, ov=NI_OBS_V),
    dict(title="<i>Zn</i> (mmol/L)", yr=[-2e-5, 1.2015e-3],
         tv=[0, 2e-4, 4e-4, 6e-4, 8e-4, 1e-3, 1.2e-3],
         tt=["0.0e+00", "2.0e-04", "4.0e-04", "6.0e-04", "8.0e-04", "1.0e-03", "1.2e-03"],
         t=T, reactive=ZN_REACTIVE, nosorp=ZN_NOSORPTION, noproton=(T_ZN_NOPROTON, ZN_NOPROTON),
         noglau=ZN_NOGLAU, nohfo=ZN_NOHFO, nonreact=ZN_NONREACTIVE, ext=True, ot=ZN_OBS_T, ov=ZN_OBS_V),
    dict(title="<i>Mn</i>  (mmol/L)", yr=[-5.8e-6, 3.504e-4],
         tv=[0, 5e-5, 1e-4, 1.5e-4, 2e-4, 2.5e-4, 3e-4, 3.5e-4],
         tt=["0.0e+00", "5.0e-05", "1.0e-04", "1.5e-04", "2.0e-04", "2.5e-04", "3.0e-04", "3.5e-04"],
         t=T, reactive=MN_REACTIVE, nosorp=MN_NOSORPTION, noproton=(T_MN_NOPROTON, MN_NOPROTON),
         noglau=MN_NOGLAU, nohfo=MN_NOHFO, nonreact=MN_NONREACTIVE, ext=False, ot=MN_OBS_T, ov=MN_OBS_V),
    dict(title="<i>Fe</i>  (mmol/L)", yr=[-5e-4, 8.01e-3],
         tv=[0, 1e-3, 2e-3, 3e-3, 4e-3, 5e-3, 6e-3, 7e-3, 8e-3],
         tt=["0.0e+00", "1.0e-03", "2.0e-03", "3.0e-03", "4.0e-03", "5.0e-03", "6.0e-03", "7.0e-03", "8.0e-03"],
         t=T, reactive=FE_REACTIVE, nosorp=FE_NOSORPTION, noproton=FE_NOPROTON, noglau=FE_NOGLAU,
         nohfo=FE_NOHFO, nonreact=FE_NONREACTIVE, ext=True, ot=FE_OBS_T, ov=FE_OBS_V),
    dict(title="<i>Cl</i> (mmol/L)", yr=[-0.0008, 1.6015], tv=[0, 0.4, 0.8, 1.2, 1.6],
         tt=["0.0e+00", "4.0e-01", "8.0e-01", "1.2e+00", "1.6e+00"],
         t=T, reactive=CL_REACTIVE, nosorp=None, noproton=None, noglau=None,
         nohfo=CL_NOHFO, nonreact=CL_NONREACTIVE, ext=False, ot=CL_OBS_T, ov=CL_OBS_V),
    dict(title="<i>Al</i>  (mmol/L)", yr=[-5.1e-4, 5.51e-3],
         tv=[0, 1e-3, 2e-3, 3e-3, 4e-3, 5e-3],
         tt=["0.0e+00", "1.0e-03", "2.0e-03", "3.0e-03", "4.0e-03", "5.0e-03"],
         t=T, reactive=AL_REACTIVE, nosorp=(T_AL_NOSORPTION, AL_NOSORPTION), noproton=AL_NOPROTON,
         noglau=AL_NOGLAU, nohfo=AL_NOHFO, nonreact=AL_NONREACTIVE, ext=False, ot=AL_OBS_T, ov=AL_OBS_V),
    dict(title="<i>SiO</i><sub>2</sub> (mmol/L)", yr=[-0.0002, 0.4004],
         tv=[0, 0.05, 0.1, 0.15, 0.2, 0.25, 0.3, 0.35, 0.4],
         tt=["0.0e+00", "5.0e-02", "1.0e-01", "1.5e-01", "2.0e-01", "2.5e-01", "3.0e-01", "3.5e-01", "4.0e-01"],
         t=T, reactive=SIO2_REACTIVE, nosorp=SIO2_NOSORPTION, noproton=SIO2_NOPROTON, noglau=SIO2_NOGLAU,
         nohfo=SIO2_NOHFO, nonreact=SIO2_NONREACTIVE, ext=False, ot=SIO2_OBS_T, ov=SIO2_OBS_V),
]

COL_PX = [(12, 379), (464, 830), (915, 1281)]
ROW_PX = [(17, 325), (344, 651), (670, 977), (996, 1304)]

shapes = []
annotations = []
layout_axes = {}


def series(p, key):
    s = p[key]
    if s is None:
        return None
    if isinstance(s, tuple):
        return s
    return p["t"], s


for idx, p in enumerate(PANELS):
    i = idx + 1
    r, c = divmod(idx, 3)
    xr, yr, xname, yname = ax_names(i)
    x0, x1 = COL_PX[c]
    y0, y1 = ROW_PX[r]

    # injection-rate background bands
    for bs, be, bc in zip(BAND_START, BAND_END, BAND_CLASS):
        shapes.append(dict(type="rect", xref=xr, yref=yr + " domain", x0=bs, x1=be, y0=0, y1=1,
                           fillcolor=RATE_COLORS[RATE_CLASSES.index(bc)], line=dict(width=0), layer="below"))

    # simulations
    t, v = series(p, "reactive")
    add_line(i, t, v, C_REACTIVE, 6.5)
    for key, col, wd in [("nosorp", C_NOSORPTION, 1.3), ("noproton", C_NOPROTON, 1.3),
                         ("noglau", C_NOGLAU, 1.6), ("nohfo", C_NOHFO, 1.2)]:
        s = series(p, key)
        if s is not None:
            add_line(i, s[0], s[1], col, wd)
    t, v = series(p, "nonreact")
    tx = [X_LEFT] + list(t)
    vx = [v[0]] + list(v)
    if p["ext"]:
        tx = tx + [X_RIGHT]
        vx = vx + [v[-1]]
    add_line(i, tx, vx, "#000000", 1.8, dash="7px,5px")

    # observations
    fig.add_trace(go.Scatter(x=p["ot"], y=p["ov"], mode="markers", xaxis=xr, yaxis=yr, hoverinfo="skip",
                             marker=dict(symbol="circle", size=11.5, color="rgba(255,255,255,0.8)",
                                         line=dict(color="black", width=1.2))))

    layout_axes[xname] = dict(domain=[x0 / W, x1 / W], anchor=yr, range=[X_LEFT, X_RIGHT],
                              tickvals=YEAR_TICKS, ticktext=[str(y) for y in YEAR_TICKS], tickangle=30,
                              ticks="outside", ticklen=6, tickwidth=1.5, tickcolor="black",
                              showline=True, mirror=True, linecolor="black", linewidth=2,
                              showgrid=False, zeroline=False, showticklabels=(r == 3), automargin=False,
                              tickfont=dict(size=13, family=FONT, color="black"))
    layout_axes[yname] = dict(domain=[1 - y1 / H, 1 - y0 / H], anchor=xr, side="right", range=p["yr"],
                              tickvals=p["tv"], ticktext=p["tt"],
                              ticks="outside", ticklen=6, tickwidth=1.5, tickcolor="black",
                              showline=True, mirror=True, linecolor="black", linewidth=2,
                              showgrid=False, zeroline=False, automargin=False,
                              tickfont=dict(size=13, family=FONT, color="black"))

    annotations.append(dict(text=p["title"], xref=xr + " domain", yref=yr + " domain", x=0.05, y=0.905,
                            xanchor="left", yanchor="middle", showarrow=False,
                            font=dict(size=18.8, family=FONT, color="black")))
    if r == 3:
        annotations.append(dict(text="Time (Year)", xref=xr + " domain", yref="paper", x=0.5,
                                y=1 - 1362 / H, xanchor="center", yanchor="middle", showarrow=False,
                                font=dict(size=13.5, family=FONT, color="black")))


# ---------------- legends (drawn in paper coordinates) ----------------
def px(xp):
    return xp / W


def py(yp):
    return 1 - yp / H


def text_at(x, y, s, size=16, anchor="left"):
    annotations.append(dict(text=s, xref="paper", yref="paper", x=px(x), y=py(y), xanchor=anchor,
                            yanchor="middle", showarrow=False, font=dict(size=size, family=FONT, color="black")))


# Injection rate legend
text_at(207, 1413, "Injection Rate (ML/d)", size=18.5, anchor="center")
INJ_LEGEND_ORDER = ["0", "3 - 6", "9 - 12", "< 3", "6 - 9", "12 - 15"]
INJ_COL_X = [47, 152, 265]
INJ_ROW_Y = [1444, 1473]
for k, cls in enumerate(INJ_LEGEND_ORDER):
    rr, cc = divmod(k, 3)
    sx, sy = INJ_COL_X[cc], INJ_ROW_Y[rr]
    shapes.append(dict(type="rect", xref="paper", yref="paper", x0=px(sx), x1=px(sx + 33),
                       y0=py(sy + 6), y1=py(sy - 6), fillcolor=RATE_COLORS[RATE_CLASSES.index(cls)],
                       line=dict(color="#ececec", width=1)))
    text_at(sx + 45, sy, cls)

# Simulations legend
text_at(902, 1401, "Simulations", size=18.5, anchor="center")


def leg_line(x0, x1, y, color, width, dash=None):
    shapes.append(dict(type="line", xref="paper", yref="paper", x0=px(x0), x1=px(x1), y0=py(y), y1=py(y),
                       line=dict(color=color, width=width, dash=dash)))


leg_line(500, 540, 1432, C_REACTIVE, 6.5)
text_at(549, 1432, "Simulation (Reactive)")
leg_line(505, 540, 1462, "#000000", 2, dash="6px,4px")
text_at(549, 1462, "Non-reactive Simulation")
leg_line(505, 540, 1491, "#ff3b3b", 1.5)
text_at(549, 1491, "Simulation (No Sorption)")
leg_line(778, 810, 1432, "#444444", 1.5)
text_at(822, 1432, "Simulation (No Hfo)")
leg_line(778, 810, 1462, C_NOPROTON, 1.5)
text_at(822, 1462, "Simulation (No proton buff.)")
leg_line(1083, 1116, 1432, C_NOGLAU, 1.5)
text_at(1128, 1432, "Simulation (No Glau.)")
shapes.append(dict(type="circle", xref="paper", yref="paper", x0=px(1094.5), x1=px(1103.5),
                   y0=py(1466.5), y1=py(1457.5), line=dict(color="black", width=1.2), fillcolor="white"))
text_at(1128, 1462, "Observation at YMB1")

fig.update_layout(width=W, height=H, margin=dict(l=0, r=0, t=0, b=0, pad=0, autoexpand=False),
                  paper_bgcolor="white", plot_bgcolor="rgba(0,0,0,0)", showlegend=False,
                  font=dict(family=FONT, color="black"), shapes=shapes, annotations=annotations,
                  **layout_axes)

fig.write_html("out.html")
